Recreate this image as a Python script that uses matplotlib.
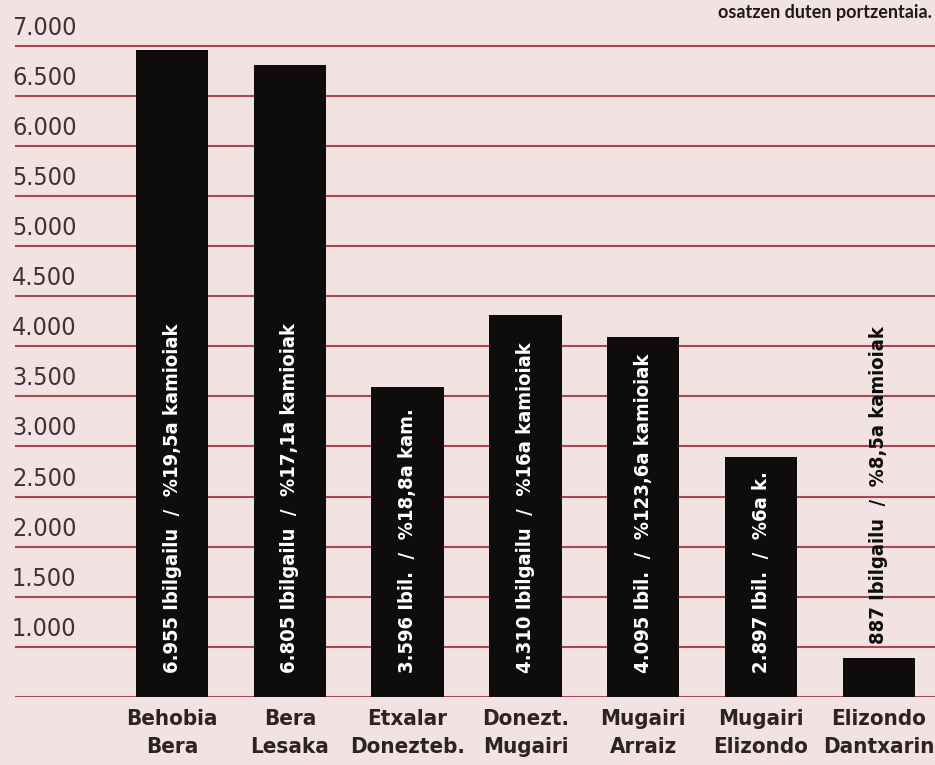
import matplotlib
matplotlib.use("Agg")
import matplotlib.pyplot as plt

# data
pasaguneak = ["Behobia\nBera", "Bera\nLesaka", "Etxalar\nDonezteb.", "Donezt.\nMugairi",
              "Mugairi\nArraiz", "Mugairi\nElizondo", "Elizondo\nDantxarin"]
ibilgailuak = [6955, 6805, 3596, 4310, 4095, 2897, 887]
barra_testuak = ["6.955 Ibilgailu  /  %19,5a kamioiak",
                 "6.805 Ibilgailu  /  %17,1a kamioiak",
                 "3.596 Ibil.  /  %18,8a kam.",
                 "4.310 Ibilgailu  /  %16a kamioiak",
                 "4.095 Ibil.  /  %123,6a kamioiak",
                 "2.897 Ibil.  /  %6a k.",
                 "887 Ibilgailu  /  %8,5a kamioiak"]
y_marrak = [500, 1000, 1500, 2000, 2500, 3000, 3500, 4000, 4500, 5000, 5500, 6000, 6500, 7000]
y_etiketak = ["", "1.000", "1.500", "2.000", "2.500", "3.000", "3.500", "4.000",
              "4.500", "5.000", "5.500", "6.000", "6.500", "7.000"]

atzealdea = "#f2e2e2"
marra_kolorea = "#a94650"
barra_kolorea = "#0e0c0d"
testu_kolorea = "#2b2325"
narrow = ["DejaVu Sans"]

fig = plt.figure(figsize=(9.35, 7.65), dpi=100, facecolor=atzealdea)
ax = fig.add_axes([15 / 935, 68 / 765, 920 / 935, 697 / 765])
ax.set_facecolor(atzealdea)
for s in ax.spines.values():
    s.set_visible(False)
ax.set_xticks([])
ax.set_yticks([])

ax.set_ylim(500, 7455)
ax.set_xlim(-1.333, 6.477)

# horizontal rules
for v in y_marrak:
    ax.axhline(v, color=marra_kolorea, lw=1.5, zorder=1)

# y labels sit just above their rule
for v, lab in zip(y_marrak, y_etiketak):
    if lab:
        ax.annotate(lab, xy=(0, v), xycoords=("axes fraction", "data"),
                    xytext=(-3, 18), textcoords="offset pixels",
                    ha="left", va="center", fontsize=18, color="#3d3236",
                    family=narrow, fontstretch="condensed")

x = list(range(len(ibilgailuak)))
ax.bar(x, ibilgailuak, width=0.615, color=barra_kolorea, zorder=2)

for i, (v, t) in enumerate(zip(ibilgailuak, barra_testuak)):
    if v > 1500:
        ax.annotate(t, xy=(i, 500), xycoords="data", xytext=(0, 24),
                    textcoords="offset pixels", rotation=90, ha="center", va="bottom",
                    color="white", fontsize=14.5, fontweight="bold", family=narrow,
                    fontstretch="condensed", zorder=3)
    else:
        ax.annotate(t, xy=(i, v), xycoords="data", xytext=(0, 14),
                    textcoords="offset pixels", rotation=90, ha="center", va="bottom",
                    color=barra_kolorea, fontsize=14.5, fontweight="bold", family=narrow,
                    fontstretch="condensed", zorder=3)

# category names under the bars
for i, lab in enumerate(pasaguneak):
    ax.annotate(lab, xy=(i, 500), xycoords="data", xytext=(0, -12),
                textcoords="offset pixels", ha="center", va="top",
                fontsize=16, fontweight="bold", color=testu_kolorea,
                family=narrow, fontstretch="condensed", linespacing=1.5)

fig.text(932 / 935, 1 - 18 / 765, "osatzen duten portzentaia.", ha="right",
         va="baseline", fontsize=13, fontweight="bold", color="#1e1a1b",
         family=["Lato", "DejaVu Sans"])

fig.savefig("out.png", dpi=100, facecolor=atzealdea)
